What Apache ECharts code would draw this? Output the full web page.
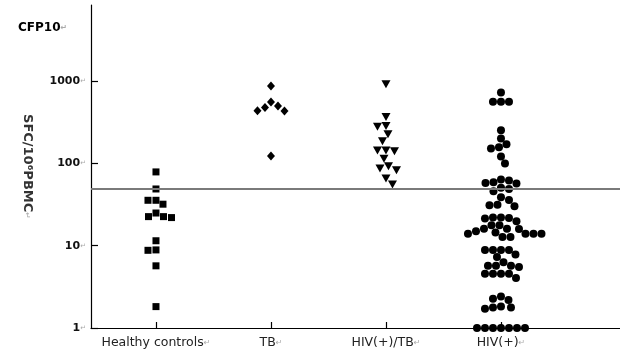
<!DOCTYPE html>
<html>
<head>
<meta charset="utf-8">
<script src="https://cdn.jsdelivr.net/npm/echarts@6/dist/echarts.min.js"></script>
<style>html,body{margin:0;padding:0;background:#fff}#c{width:620px;height:352px}</style>
</head>
<body>
<div id="c"></div>
<script>
const categories = ['Healthy controls', 'TB', 'HIV(+)/TB', 'HIV(+)'];
const healthy = [79, 49, 35.7, 35.7, 32, 25, 22.6, 22.6, 22, 11.5, 8.9, 8.8, 5.7, 1.82];
const tb = [877, 560, 500, 478, 439, 434, 123];
const hivtb = [919, 367, 285, 280, 226, 187, 144, 144, 141, 114, 92.7, 87, 83, 65.6, 55.5];
const hiv = [728, 565, 565, 565, 253, 202, 171, 158, 152, 122, 100,
  64, 62, 59, 58, 57, 50.7, 49, 46, 38.8, 36, 31.6, 31, 30.3,
  22.1, 22.1, 21.8, 21.5, 19.8, 17.7, 17.7, 16.1, 16.1, 16, 15, 14.5, 14, 14, 14, 14, 12.8, 12.8,
  8.9, 8.9, 8.9, 8.9, 7.8, 7.3, 6.3, 5.7, 5.7, 5.7, 5.5, 4.56, 4.56, 4.56, 4.56, 4.04,
  2.41, 2.26, 2.19, 1.82, 1.77, 1.77, 1.71, 1, 1, 1, 1, 1, 1, 1];
const yTicks = [1, 10, 100, 1000];
const cutoff = 50;
const chartTitle = 'CFP10';
const yName = 'SFC/10\u2076PBMC';

const FONT = '"DejaVu Sans", Verdana, sans-serif';
const groups = [healthy, tb, hivtb, hiv];
const symbols = [
  { symbol: 'rect', symbolSize: 7, symbolRotate: 0, D: 8 },
  { symbol: 'diamond', symbolSize: [8, 9], symbolRotate: 0, D: 8 },
  { symbol: 'triangle', symbolSize: [9, 8], symbolRotate: 180, D: 8.5 },
  { symbol: 'circle', symbolSize: 8, symbolRotate: 0, D: 8 }
];

const chart = echarts.init(document.getElementById('c'), null, { renderer: 'canvas' });

function baseSeries(dataFn) {
  return groups.map((vals, i) => ({
    type: 'scatter',
    clip: false,
    symbol: symbols[i].symbol,
    symbolSize: symbols[i].symbolSize,
    symbolRotate: symbols[i].symbolRotate,
    itemStyle: { color: '#000', opacity: 1 },
    data: dataFn(vals, i),
    markLine: i === 0 ? {
      silent: true,
      symbol: 'none',
      label: { show: false },
      lineStyle: { color: '#7a7a7a', width: 2, type: 'solid' },
      data: [{ yAxis: cutoff }]
    } : undefined,
    z: 3
  }));
}

const option = {
  animation: false,
  backgroundColor: '#fff',
  title: {
    text: '{t|' + chartTitle + '}{r|\u21B5}',
    left: 13, top: 17,
    textStyle: {
      rich: {
        t: { fontFamily: FONT, fontWeight: 'bold', fontSize: 12, color: '#000' },
        r: { fontFamily: 'DejaVu Sans', fontSize: 8, color: '#aaa' }
      }
    }
  },
  grid: { left: 91, right: 0, top: 5, bottom: 24, containLabel: false },
  xAxis: {
    type: 'value',
    min: -0.565, max: 4.035,
    splitLine: { show: false },
    axisLine: { show: true, onZero: false, lineStyle: { color: '#000', width: 1.2 } },
    axisTick: { show: true, inside: true, length: 6, customValues: [0, 1, 2, 3], lineStyle: { color: '#000', width: 1.2 } },
    axisLabel: {
      customValues: [0, 1, 2, 3],
      margin: 8,
      formatter: v => '{n|' + categories[Math.round(v)] + '}{r|\u21B5}',
      rich: {
        n: { fontFamily: FONT, fontSize: 12.5, color: '#222' },
        r: { fontFamily: 'DejaVu Sans', fontSize: 8, color: '#aaa' }
      }
    }
  },
  yAxis: {
    type: 'log', logBase: 10,
    min: 1, max: 8450,
    name: '{n|' + yName + '}{r|\u21B5}',
    nameLocation: 'middle',
    nameRotate: -90,
    nameGap: 57,
    nameTextStyle: {
      rich: {
        n: { fontFamily: FONT, fontWeight: 'bold', fontSize: 13, color: '#333' },
        r: { fontFamily: 'DejaVu Sans', fontSize: 8, color: '#aaa' }
      }
    },
    splitLine: { show: false },
    axisLine: { show: true, onZero: false, lineStyle: { color: '#000', width: 1.2 } },
    axisTick: { show: true, inside: true, length: 7, customValues: yTicks, lineStyle: { color: '#000', width: 1.2 } },
    axisLabel: {
      customValues: yTicks,
      margin: 5,
      formatter: v => '{n|' + v + '}{r|\u21B5}',
      rich: {
        n: { fontFamily: FONT, fontWeight: 'bold', fontSize: 11, color: '#111' },
        r: { fontFamily: 'DejaVu Sans', fontSize: 7, color: '#aaa' }
      }
    }
  },
  series: baseSeries((vals, i) => vals.map(v => [i, v]))
};
chart.setOption(option);

// beeswarm dodge computed in pixel space through the chart's own scales
const unitPx = chart.convertToPixel({ gridIndex: 0 }, [1, 1])[0] - chart.convertToPixel({ gridIndex: 0 }, [0, 1])[0];
function swarm(vals, i) {
  const D = symbols[i].D;
  const placed = [];
  const out = [];
  vals.forEach((v, k) => {
    const py = chart.convertToPixel({ gridIndex: 0 }, [i, v])[1];
    let chosen = 0;
    const pref = k % 2 === 0 ? 1 : -1;
    for (let s = 0; s < 200; s++) {
      const cands = s === 0 ? [0] : [pref * s * 0.5, -pref * s * 0.5];
      let found = null;
      for (const dx of cands) {
        let ok = true;
        for (const p of placed) {
          const ddx = dx - p[0], ddy = py - p[1];
          if (ddx * ddx + ddy * ddy < D * D) { ok = false; break; }
        }
        if (ok) { found = dx; break; }
      }
      if (found !== null) { chosen = found; break; }
    }
    placed.push([chosen, py]);
    out.push([i + chosen / unitPx, v]);
  });
  return out;
}
chart.setOption({ series: baseSeries(swarm) });
</script>
</body>
</html>
